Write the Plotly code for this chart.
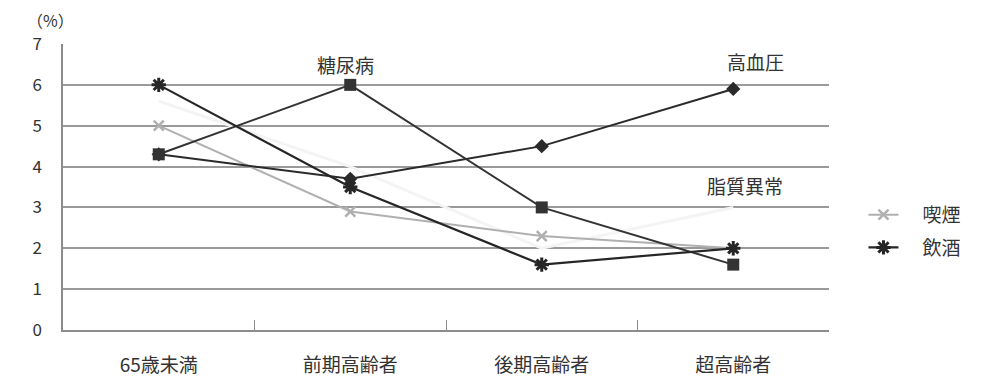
import plotly.graph_objects as go

# Age groups and prevalence (%) for each risk factor
categories = ["65歳未満", "前期高齢者", "後期高齢者", "超高齢者"]
hypertension = [4.3, 3.7, 4.5, 5.9]      # 高血圧
diabetes = [4.3, 6.0, 3.0, 1.6]          # 糖尿病
dyslipidemia = [5.6, 4.0, 2.0, 3.0]      # 脂質異常
smoking = [5.0, 2.9, 2.3, 2.0]           # 喫煙
drinking = [6.0, 3.5, 1.6, 2.0]          # 飲酒
y_ticks = [0, 1, 2, 3, 4, 5, 6, 7]

FONT = "Noto Sans CJK JP"
TXT = "#333333"
GAP = "\u2003"  # spacing between legend symbol and its label

fig = go.Figure()

# faint near-white line drawn first so the gridlines seem broken where it passes
fig.add_trace(go.Scatter(
    x=categories, y=dyslipidemia, name="脂質異常", mode="lines",
    line=dict(color="#f4f4f4", width=3), showlegend=False, cliponaxis=False))

fig.add_trace(go.Scatter(
    x=categories, y=smoking, name=GAP + "喫煙", mode="lines+markers",
    legendgroup="smoking",
    line=dict(color="#b0b0b0", width=2),
    marker=dict(symbol="x-thin-open", size=10, line=dict(color="#b0b0b0", width=2.5)),
    cliponaxis=False))

fig.add_trace(go.Scatter(
    x=categories, y=hypertension, name="高血圧", mode="lines+markers",
    line=dict(color="#2a2a2a", width=2),
    marker=dict(symbol="diamond", size=11, color="#2a2a2a"),
    showlegend=False, cliponaxis=False))

fig.add_trace(go.Scatter(
    x=categories, y=diabetes, name="糖尿病", mode="lines+markers",
    line=dict(color="#333333", width=2),
    marker=dict(symbol="square", size=12, color="#333333"),
    showlegend=False, cliponaxis=False))

fig.add_trace(go.Scatter(
    x=categories, y=drinking, name=GAP + "飲酒", mode="lines+markers",
    legendgroup="drinking",
    line=dict(color="#262626", width=2.2),
    marker=dict(symbol="asterisk-open", size=12, line=dict(color="#262626", width=3)),
    cliponaxis=False))

# series names written beside their lines
labels = [
    ("糖尿病", categories[1], diabetes[1], -5, 20),
    ("高血圧", categories[3], hypertension[3], 22, 27),
    ("脂質異常", categories[3], dyslipidemia[3], 12, 22),
]
for text, xv, yv, xs, ys in labels:
    fig.add_annotation(x=xv, y=yv, xref="x", yref="y", text=text, showarrow=False,
                       xshift=xs, yshift=ys, font=dict(family=FONT, size=19, color=TXT))

fig.add_annotation(x=-0.05, y=1.085, xref="paper", yref="paper", text="（%）",
                   showarrow=False, xanchor="left", yanchor="middle",
                   font=dict(family=FONT, size=16, color=TXT))

fig.update_layout(
    width=985, height=381,
    margin=dict(l=63, r=156, t=44, b=51),
    paper_bgcolor="white", plot_bgcolor="white",
    font=dict(family=FONT, color=TXT),
    legend=dict(x=1.045, y=0.345, xanchor="left", yanchor="middle",
                font=dict(family=FONT, size=19, color=TXT),
                bgcolor="rgba(0,0,0,0)", tracegroupgap=5),
)

fig.update_xaxes(
    type="category", range=[-0.5, 3.5], automargin=False,
    showgrid=False, showline=True, linecolor="#8c8c8c", linewidth=1.5,
    ticks="inside", tickson="boundaries", ticklen=10, tickcolor="#8c8c8c",
    tickfont=dict(family=FONT, size=19, color=TXT), ticklabelstandoff=17,
)
fig.update_yaxes(
    range=[0, 7], tickvals=y_ticks, ticktext=[str(v) for v in y_ticks],
    automargin=False,
    showgrid=True, gridcolor="#9a9a9a", gridwidth=1.5,
    showline=True, linecolor="#8c8c8c", linewidth=1.5, zeroline=False,
    ticks="", tickfont=dict(family=FONT, size=17, color=TXT), ticklabelstandoff=16,
)

fig.write_html("out.html")
